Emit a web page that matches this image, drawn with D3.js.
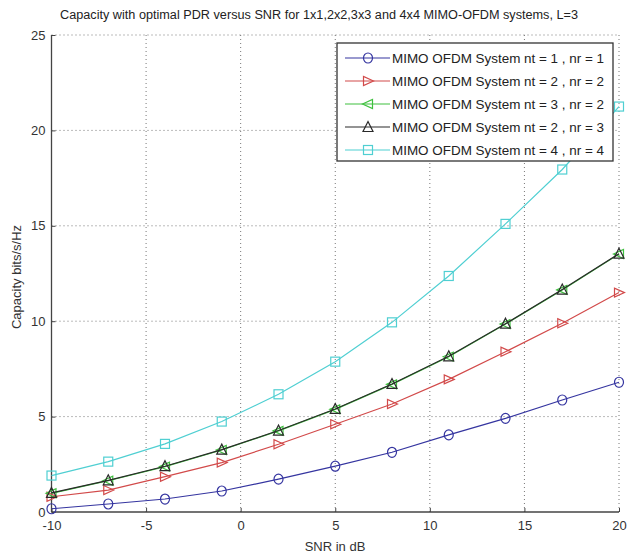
<!DOCTYPE html>
<html><head><meta charset="utf-8">
<script src="https://cdn.jsdelivr.net/npm/d3@7"></script>
<style>body{margin:0;background:#fff}text{font-family:"Liberation Sans",Arial,sans-serif}</style>
</head><body><svg id="c" width="627" height="555"></svg>
<script>
const snr = [-10,-7,-4,-1,2,5,8,11,14,17,20];
const cap11 = [0.17,0.42,0.68,1.1,1.72,2.4,3.13,4.04,4.91,5.87,6.8];
const cap22 = [0.8,1.15,1.85,2.59,3.55,4.6,5.66,6.95,8.4,9.89,11.5];
const cap32 = [0.98,1.64,2.38,3.25,4.25,5.38,6.69,8.14,9.85,11.64,13.52];
const cap23 = [1.0,1.66,2.4,3.27,4.27,5.4,6.71,8.16,9.87,11.66,13.54];
const cap44 = [1.91,2.64,3.57,4.74,6.17,7.88,9.94,12.37,15.1,17.95,21.25];
const seriesNames = ["MIMO OFDM System nt = 1 , nr = 1","MIMO OFDM System nt = 2 , nr = 2","MIMO OFDM System nt = 3 , nr = 2","MIMO OFDM System nt = 2 , nr = 3","MIMO OFDM System nt = 4 , nr = 4"];
const xTicks = [-10,-5,0,5,10,15,20];
const yTicks = [0,5,10,15,20,25];
const titleText = "Capacity with optimal PDR versus SNR for 1x1,2x2,3x3 and 4x4 MIMO-OFDM systems, L=3";
const xLabel = "SNR in dB", yLabel = "Capacity bits/s/Hz";

const series = [
  {name:seriesNames[0], vals:cap11, color:"#3535a0", marker:"circle"},
  {name:seriesNames[1], vals:cap22, color:"#d24a4a", marker:"right"},
  {name:seriesNames[2], vals:cap32, color:"#3fc03f", marker:"left"},
  {name:seriesNames[3], vals:cap23, color:"#2a2a2a", marker:"up"},
  {name:seriesNames[4], vals:cap44, color:"#4fcfd2", marker:"square"}
];

const svg = d3.select("#c");
const L=51.5, R=619, T=35, B=512;
const x = d3.scaleLinear().domain([-10,20]).range([L,R]);
const y = d3.scaleLinear().domain([0,25]).range([B,T]);

// grid
const g = svg.append("g");
g.selectAll(".vg").data(xTicks.filter(d=>d>-10)).enter().append("line")
 .attr("x1",d=>x(d)).attr("x2",d=>x(d)).attr("y1",B).attr("y2",T)
 .attr("stroke","#777").attr("stroke-width",1).attr("stroke-dasharray","1,3");
g.selectAll(".hg").data(yTicks.filter(d=>d>0)).enter().append("line")
 .attr("y1",d=>y(d)).attr("y2",d=>y(d)).attr("x1",L).attr("x2",R)
 .attr("stroke","#777").attr("stroke-width",1).attr("stroke-dasharray","1,3");

// axes
const fmt = d=>String(d);
const xa = svg.append("g").attr("transform",`translate(0,${B})`)
 .call(d3.axisBottom(x).tickValues(xTicks).tickSize(-4).tickPadding(9).tickFormat(fmt));
const ya = svg.append("g").attr("transform",`translate(${L},0)`)
 .call(d3.axisLeft(y).tickValues(yTicks).tickSize(-4).tickPadding(6).tickFormat(fmt));
[xa,ya].forEach(a=>{
  a.select(".domain").attr("stroke","#444").attr("stroke-width",1.3);
  a.selectAll(".tick line").attr("stroke","#444");
  a.selectAll(".tick text").attr("font-size",13).attr("fill","#333").attr("font-family","Liberation Sans, Arial");
});
xa.select(".domain").attr("d",`M${L},0H${R}`);
ya.select(".domain").attr("d",`M0,${B}V${T}`);

// lines and markers
const line = d3.line().x((d,i)=>x(snr[i])).y(d=>y(d));
function marker(sel, type, color){
  const s=4.5;
  let p;
  if(type==="circle"){ sel.append("ellipse").attr("rx",s).attr("ry",s+0.5).attr("fill","none").attr("stroke",color).attr("stroke-width",1.2); return; }
  if(type==="square"){ sel.append("rect").attr("x",-s).attr("y",-s).attr("width",2*s).attr("height",2*s).attr("fill","none").attr("stroke",color).attr("stroke-width",1.2); return; }
  if(type==="up") p=`M0,${-s-1}L${s+0.5},${s}L${-s-0.5},${s}Z`;
  if(type==="right") p=`M${s+1},0L${-s},${-s}L${-s},${s}Z`;
  if(type==="left") p=`M${-s-1},0L${s},${-s}L${s},${s}Z`;
  sel.append("path").attr("d",p).attr("fill","none").attr("stroke",color).attr("stroke-width",1.2);
}
series.forEach(sr=>{
  svg.append("path").attr("d",line(sr.vals)).attr("fill","none").attr("stroke",sr.color).attr("stroke-width",1.2);
  sr.vals.forEach((v,i)=>{
    const m = svg.append("g").attr("transform",`translate(${x(snr[i])},${y(v)})`);
    marker(m, sr.marker, sr.color);
  });
});

// legend
const lg = svg.append("g");
lg.append("rect").attr("x",337).attr("y",43).attr("width",276).attr("height",118)
 .attr("fill","#fff").attr("stroke","#333").attr("stroke-width",1.3);
series.forEach((sr,i)=>{
  const yy = 58 + i*23;
  lg.append("line").attr("x1",345).attr("x2",390).attr("y1",yy).attr("y2",yy).attr("stroke",sr.color).attr("stroke-width",1.2);
  marker(lg.append("g").attr("transform",`translate(368,${yy})`), sr.marker, sr.color);
  lg.append("text").attr("x",392).attr("y",yy+4.5).attr("font-size",13.5).attr("fill","#222")
    .attr("textLength",212).attr("lengthAdjust","spacingAndGlyphs").text(sr.name);
});

// title and labels
svg.append("text").attr("x",60).attr("y",19).attr("font-size",12.5).attr("fill","#222")
 .attr("textLength",518).attr("lengthAdjust","spacingAndGlyphs").text(titleText);
svg.append("text").attr("x",335).attr("y",551).attr("text-anchor","middle").attr("font-size",13).attr("fill","#333").text(xLabel);
svg.append("text").attr("transform","translate(21,277) rotate(-90)").attr("text-anchor","middle").attr("font-size",13).attr("fill","#333").text(yLabel);
</script></body></html>
